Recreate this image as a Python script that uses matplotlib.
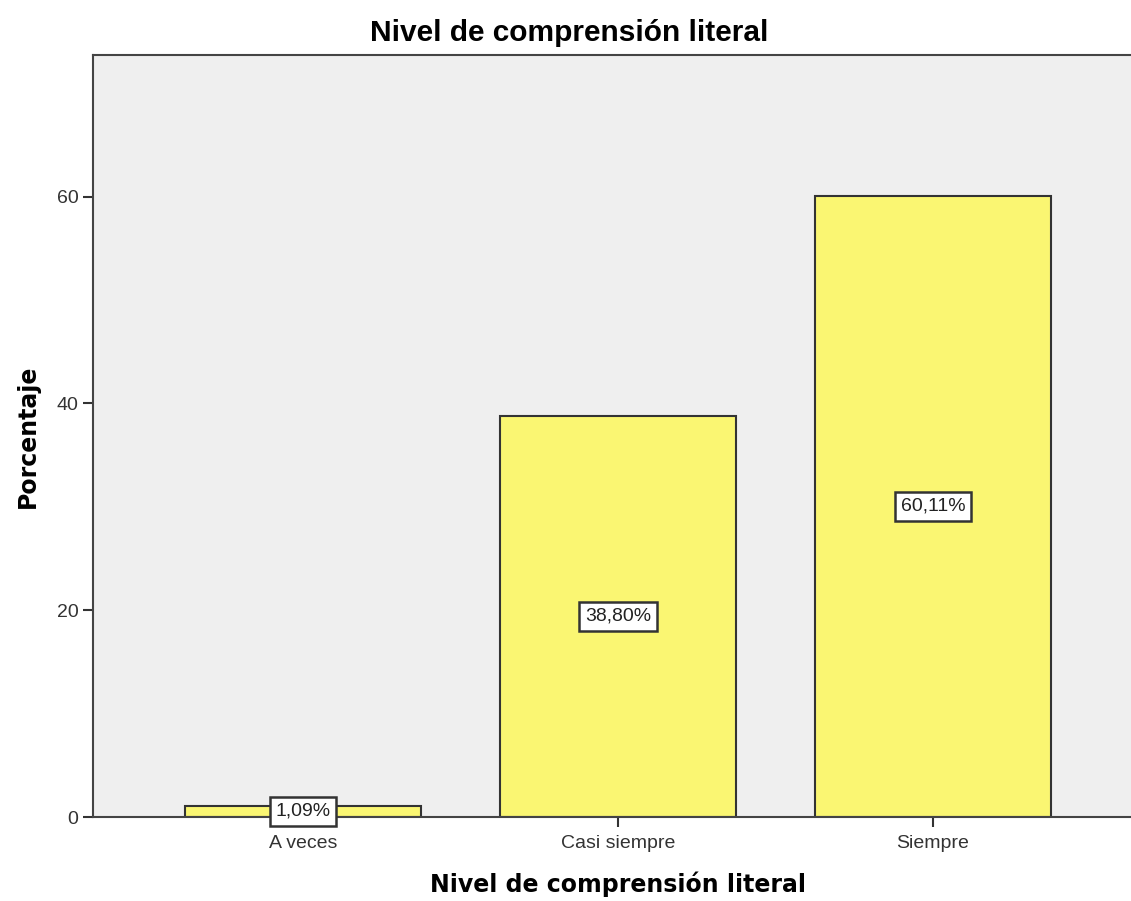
import matplotlib.pyplot as plt

categories = ['A veces', 'Casi siempre', 'Siempre']
percentages = [1.09, 38.80, 60.11]
labels = ['1,09%', '38,80%', '60,11%']

fig = plt.figure(figsize=(11.31, 9.01), dpi=100)
ax = fig.add_axes([93 / 1131, 1 - 817 / 901, 1050 / 1131, 762 / 901])
ax.set_facecolor('#efefef')

x = range(len(categories))
ax.bar(x, percentages, width=0.75, color='#faf672', edgecolor='#333333', linewidth=1.5)

for i, (v, lab) in enumerate(zip(percentages, labels)):
    ax.text(i, v / 2, lab, ha='center', va='center', fontsize=14, color='#222222',
            family='Liberation Sans',
            bbox=dict(boxstyle='square,pad=0.3', facecolor='white', edgecolor='#333333', linewidth=1.8))

ax.set_xlim(-0.667, 2.667)
ax.set_ylim(0, 73.7)
ax.set_yticks([0, 20, 40, 60])
ax.set_xticks(list(x))
ax.set_xticklabels(categories)
ax.tick_params(axis='both', labelsize=14, length=7, width=1.5, color='#333333', labelcolor='#333333')
ax.tick_params(axis='x', pad=6)
for t in ax.get_xticklabels() + ax.get_yticklabels():
    t.set_family('Liberation Sans')

for s in ax.spines.values():
    s.set_color('#444444')
    s.set_linewidth(1.5)
ax.spines['right'].set_visible(False)

ax.set_ylabel('Porcentaje', fontsize=17, fontweight='bold', labelpad=12)
ax.set_xlabel('Nivel de comprensión literal', fontsize=17, fontweight='bold', labelpad=14)
fig.text(569 / 1131, 1 - 33 / 901, 'Nivel de comprensión literal', ha='center', va='center',
         fontsize=21.5, fontweight='bold', family='Liberation Sans')

fig.savefig('out.png', dpi=100)
